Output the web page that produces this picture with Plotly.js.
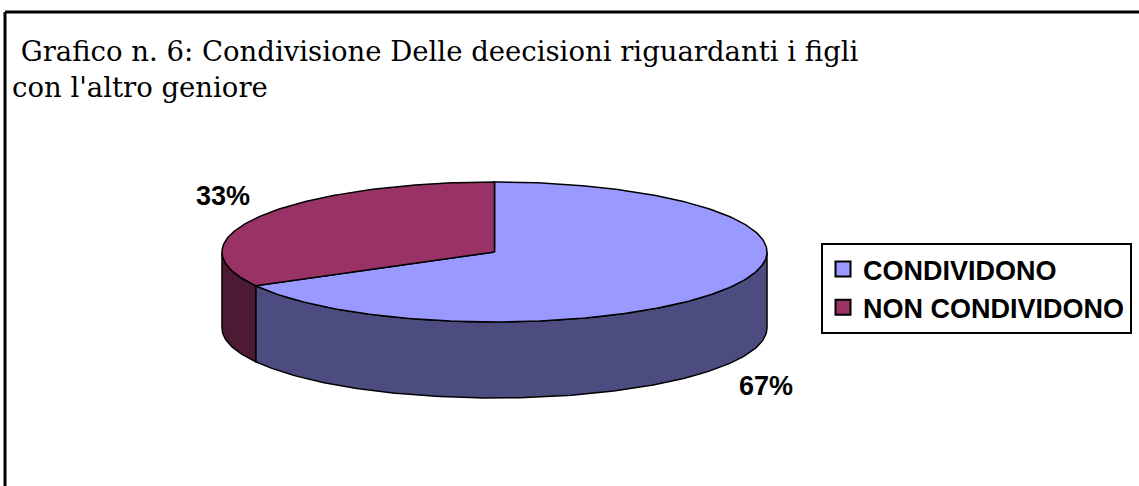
<!DOCTYPE html>
<html>
<head>
<meta charset="utf-8">
<script src="https://cdn.plot.ly/plotly-3.0.1.min.js"></script>
<style>html,body{margin:0;padding:0;background:#fff;}#chart{width:1139px;height:486px;}</style>
</head>
<body>
<div id="chart"></div>
<script>
// ---- data ----
const categories = ['CONDIVIDONO', 'NON CONDIVIDONO'];
const values = [67, 33];
const titleLine1 = 'Grafico n. 6: Condivisione Delle deecisioni riguardanti i figli';
const titleLine2 = "con l'altro geniore";

// ---- styles / geometry ----
const topColors = ['#9999FF', '#993366'];
const sideColors = ['#4C4C80', '#4D1A33'];
const W = 1139, H = 486;
const CX = 494.5, CY = 252, RX = 272.5, RY = 70, DEPTH = 76;

function pt(deg, dy) {
  const r = deg * Math.PI / 180;
  return [CX + RX * Math.sin(r), CY - RY * Math.cos(r) + (dy || 0)];
}
function arc(a, b, dy) {
  const xs = [], ys = [];
  const n = Math.max(2, Math.ceil(Math.abs(b - a)));
  for (let i = 0; i <= n; i++) {
    const p = pt(a + (b - a) * i / n, dy);
    xs.push(p[0]); ys.push(p[1]);
  }
  return [xs, ys];
}

const total = values.reduce((s, v) => s + v, 0);
const sides = [], tops = [], annotations = [];
let start = 0;
values.forEach((v, i) => {
  const a = start, b = start + 360 * v / total;
  start = b;
  // side wall (front half: 90..270 deg)
  const lo = Math.max(a, 90), hi = Math.min(b, 270);
  if (lo < hi) {
    const t = arc(lo, hi, 0), bt = arc(hi, lo, DEPTH);
    sides.push({
      type: 'scatter', mode: 'lines', fill: 'toself',
      x: t[0].concat(bt[0]).concat([t[0][0]]),
      y: t[1].concat(bt[1]).concat([t[1][0]]),
      fillcolor: sideColors[i], line: {color: '#000', width: 1.5},
      hoverinfo: 'skip', showlegend: false
    });
  }
  // top face
  const t = arc(a, b, 0);
  tops.push({
    type: 'scatter', mode: 'lines', fill: 'toself',
    x: [CX].concat(t[0]).concat([CX]),
    y: [CY].concat(t[1]).concat([CY]),
    fillcolor: topColors[i], line: {color: '#000', width: 1.5},
    hoverinfo: 'skip', showlegend: false
  });
  // label
  const mid = (a + b) / 2, r = mid * Math.PI / 180;
  const front = Math.cos(r) < 0, right = Math.sin(r) > 0;
  const p = pt(mid, front ? DEPTH : 0);
  annotations.push({
    xref: 'x', yref: 'y', x: p[0], y: p[1],
    text: Math.round(v / total * 100) + '%', showarrow: false,
    xanchor: right ? 'left' : 'right', yanchor: front ? 'top' : 'bottom',
    xshift: right ? 8 : -8, yshift: front ? -5 : 3,
    font: {family: 'Liberation Sans, Arial, sans-serif', size: 27, color: '#000', weight: 'bold'}
  });
});

const legendTraces = categories.map((c, i) => ({
  type: 'scatter', mode: 'markers', x: [null], y: [null], name: c,
  marker: {symbol: 'square', size: 15, color: topColors[i], line: {color: '#000', width: 2}},
  hoverinfo: 'skip', showlegend: true
}));

const layout = {
  width: W, height: H,
  margin: {l: 0, r: 0, t: 0, b: 0},
  paper_bgcolor: '#fff', plot_bgcolor: '#fff',
  xaxis: {range: [0, W], visible: false, fixedrange: true},
  yaxis: {range: [H, 0], visible: false, fixedrange: true},
  title: {
    text: '&nbsp;' + titleLine1 + '<br>' + titleLine2,
    x: 12 / W, xref: 'container', xanchor: 'left',
    y: 1 - 61 / H, yref: 'container', yanchor: 'top',
    font: {family: 'DejaVu Serif, serif', size: 27.5, color: '#000'}
  },
  showlegend: true,
  legend: {
    x: 821 / W, y: 1 - 243 / H, xanchor: 'left', yanchor: 'top',
    bordercolor: '#000', borderwidth: 2, bgcolor: '#fff',
    font: {family: 'Liberation Sans, Arial, sans-serif', size: 27, color: '#000', weight: 'bold'},
    tracegroupgap: 0
  },
  annotations: annotations,
  shapes: [
    {type: 'line', xref: 'paper', yref: 'paper', x0: 5 / W, x1: 1.02, y0: 1 - 12 / H, y1: 1 - 12 / H, line: {color: '#000', width: 3}},
    {type: 'line', xref: 'paper', yref: 'paper', x0: 5 / W, x1: 5 / W, y0: 1 - 12 / H, y1: -0.05, line: {color: '#000', width: 3}}
  ]
};

Plotly.newPlot('chart', sides.concat(tops).concat(legendTraces), layout, {displayModeBar: false, staticPlot: true});
</script>
</body>
</html>
